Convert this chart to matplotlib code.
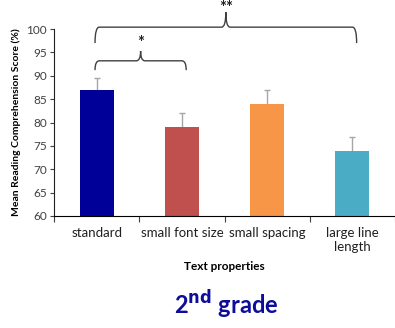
import matplotlib
matplotlib.use('Agg')
import matplotlib.pyplot as plt
from matplotlib.path import Path
from matplotlib.patches import PathPatch

plt.rcParams['font.family'] = ['Lato', 'DejaVu Sans']

# Data
categories = ['standard', 'small font size', 'small spacing', 'large line\nlength']
scores = [87, 79, 84, 74]
errors = [2.5, 3, 3, 3]
colors = ['#000099', '#c0504d', '#f79646', '#4bacc6']

# brackets: (start index, end index, label)
brackets = [(0, 1, '*'), (0, 3, '**')]


def draw_brace(ax, x0, x1, h, yend, tip, label, label_y):
    xc = (x0 + x1) / 2
    dx = 0.05
    verts = [(x0, yend), (x0, h), (x0 + dx, h),
             (xc - dx, h), (xc, h), (xc, tip),
             (xc, tip), (xc, h), (xc + dx, h),
             (x1 - dx, h), (x1, h), (x1, yend)]
    codes = [Path.MOVETO, Path.CURVE3, Path.CURVE3,
             Path.LINETO, Path.CURVE3, Path.CURVE3,
             Path.MOVETO, Path.CURVE3, Path.CURVE3,
             Path.LINETO, Path.CURVE3, Path.CURVE3]
    patch = PathPatch(Path(verts, codes), facecolor='none', edgecolor='#404040',
                      lw=1, clip_on=False)
    ax.add_patch(patch)
    ax.text(xc, label_y, label, ha='center', va='center', fontsize=12,
            fontweight='bold', color='#202020', clip_on=False)


fig = plt.figure(figsize=(3.95, 3.28), dpi=100)
ax = fig.add_axes([0.137, 0.3415, 0.863, 0.570])

x = range(len(categories))
ax.bar(x, scores, width=0.4, color=colors, zorder=2)
# lower half of each bar hidden behind the bar
ax.errorbar(x, scores, yerr=errors, fmt='none',
            ecolor='#a6a6a6', elinewidth=1, capsize=2, zorder=1)

ax.set_ylim(60, 100)
ax.set_yticks(range(60, 101, 5))
ax.set_xlim(-0.5, 3.44)
ax.set_xticks([-0.5, 0.5, 1.5, 2.5, 3.5])
ax.set_xticklabels([])
ax.set_xticks(list(x), minor=True)
ax.set_xticklabels(categories, minor=True, fontsize=9.5, color='#202020')
ax.tick_params(axis='x', which='minor', length=0, pad=8)
ax.tick_params(axis='x', which='major', length=4, direction='out', color='#404040')
ax.tick_params(axis='y', length=3, labelsize=8.5, colors='#404040', pad=2)
ax.spines['top'].set_visible(False)
ax.spines['right'].set_visible(False)
ax.spines['left'].set_color('#202020')
ax.spines['bottom'].set_color('#000000')

ax.set_ylabel('Mean Reading Comprehension Score (%)', fontsize=7.5,
              fontweight='bold', labelpad=4)
ax.set_xlabel('Text properties', fontsize=8.5, fontweight='bold', labelpad=6)

draw_brace(ax, -0.02, 1.05, 93.2, 91.2, 95.3, brackets[0][2], 97.0)
draw_brace(ax, -0.02, 3.05, 100.4, 97.0, 103.6, brackets[1][2], 104.6)

fig.text(0.572, 0.07, r'2$^{\mathbf{nd}}$ grade', ha='center', va='center',
         fontsize=17, fontweight='bold', color='#0d0d99')

fig.savefig('out.png', dpi=100)
